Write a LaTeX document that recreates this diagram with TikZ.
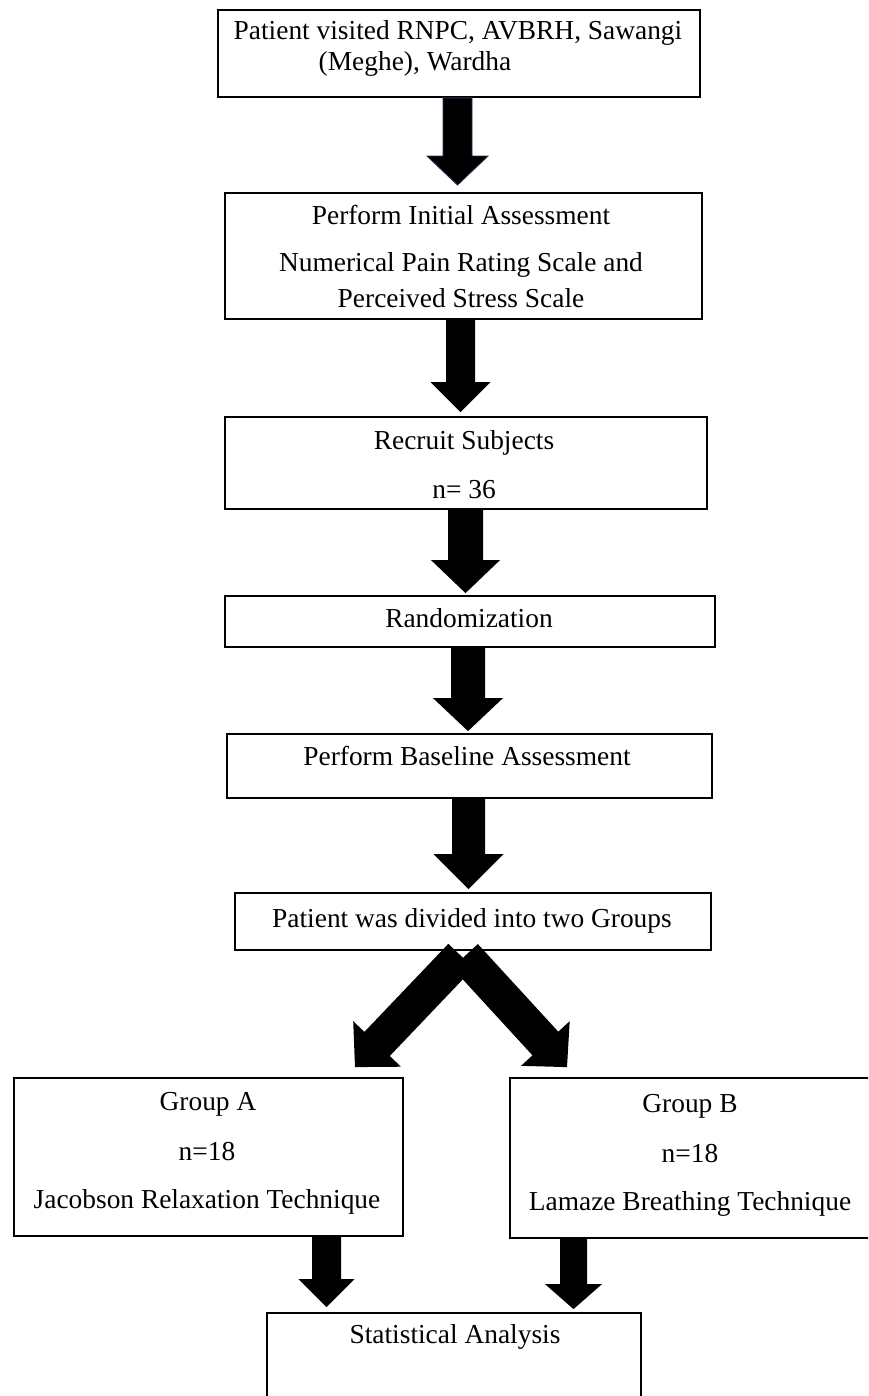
\documentclass[tikz,border=0pt]{standalone}
\usepackage{fontspec}
\setmainfont{Liberation Serif}
\usetikzlibrary{calc}
\definecolor{navyedge}{RGB}{40,52,86}
\tikzset{
  box/.style={draw=black, line width=1.8pt, inner sep=0pt},
  txt/.style={anchor=base, inner sep=0pt, font=\fontsize{27.4}{33}\selectfont},
  blockarrow/.style n args={3}{to path={
    (\tikztostart) coordinate (bS) (\tikztotarget) coordinate (bT) ($(bT)!#3!(bS)$) coordinate (bH)
    ($(bS)!#1!90:(bT)$) -- ($(bH)!#1!90:(bT)$) -- ($(bH)!#2!90:(bT)$) -- (bT)
    -- ($(bH)!#2!-90:(bT)$) -- ($(bH)!#1!-90:(bT)$) -- ($(bS)!#1!-90:(bT)$) -- cycle}},
  arrowfill/.style={fill=black},
}
\begin{document}
\begin{tikzpicture}[x=1pt,y=-1pt]
\useasboundingbox (0,0) rectangle (868,1396);
\clip (0,0) rectangle (868,1396);

% boxes
\node[box, minimum width=482pt, minimum height=87pt] (b1) at (459,53.5) {};
\node[box, minimum width=477pt, minimum height=126pt] (b2) at (463.5,256) {};
\node[box, minimum width=482pt, minimum height=92pt] (b3) at (466,463) {};
\node[box, minimum width=490pt, minimum height=51pt] (b4) at (470,621.5) {};
\node[box, minimum width=485pt, minimum height=64pt] (b5) at (469.5,766) {};
\node[box, minimum width=476pt, minimum height=57pt] (b6) at (473,921.5) {};
\node[box, minimum width=389pt, minimum height=158pt] (b7) at (208.5,1157) {};
\node[box, minimum width=370pt, minimum height=160pt] (b8) at (695,1158) {};
\node[box, minimum width=374pt, minimum height=107pt] (b9) at (454,1366.5) {};

% texts
\node[txt] (t1a) at (458,40) {Patient visited RNPC, AVBRH, Sawangi};
\node[txt] (t1b) at (415,71) {(Meghe), Wardha};
\node[txt] (t2a) at (461,225) {Perform Initial Assessment};
\node[txt] (t2b) at (461,272) {Numerical Pain Rating Scale and};
\node[txt] (t2c) at (461,308) {Perceived Stress Scale};
\node[txt] (t3a) at (464,449) {Recruit Subjects};
\node[txt] (t3b) at (464,498) {n= 36};
\node[txt] (t4) at (469,627) {Randomization};
\node[txt] (t5) at (467,765) {Perform Baseline Assessment};
\node[txt] (t6) at (472,927) {Patient was divided into two Groups};
\node[txt] (t7a) at (208,1110) {Group A};
\node[txt] (t7b) at (207,1160) {n=18};
\node[txt] (t7c) at (207,1208) {Jacobson Relaxation Technique};
\node[txt] (t8a) at (690,1112) {Group B};
\node[txt] (t8b) at (690,1162) {n=18};
\node[txt] (t8c) at (690,1210) {Lamaze Breathing Technique};
\node[txt] (t9) at (455,1343) {Statistical Analysis};

% block arrows
\path[arrowfill, draw=navyedge, line width=0.8pt] (457.5,0 |- b1.south) to[blockarrow={14.5pt}{30.5pt}{29pt}] ([yshift=7pt]457.5,0 |- b2.north);
\path[arrowfill] (460.5,0 |- b2.south) to[blockarrow={14.5pt}{30pt}{30pt}] ([yshift=4pt]460.5,0 |- b3.north);
\path[arrowfill] (465.5,0 |- b3.south) to[blockarrow={17.5pt}{34.5pt}{33pt}] ([yshift=2pt]465.5,0 |- b4.north);
\path[arrowfill] (468,0 |- b4.south) to[blockarrow={17pt}{35pt}{33pt}] ([yshift=2pt]468,0 |- b5.north);
\path[arrowfill] (468.5,0 |- b5.south) to[blockarrow={16.5pt}{35pt}{35pt}] ([yshift=3pt]468.5,0 |- b6.north);
\path[arrowfill] ([yshift=-5pt]461,0 |- b6.south) to[blockarrow={17.5pt}{33pt}{32pt}] ([yshift=10pt]355,0 |- b7.north);
\path[arrowfill] ([yshift=-5pt]465,0 |- b6.south) to[blockarrow={17.5pt}{33pt}{32pt}] ([yshift=10pt]567,0 |- b8.north);
\path[arrowfill] (326.5,0 |- b7.south) to[blockarrow={14.5pt}{28pt}{28pt}] ([yshift=5pt]326.5,0 |- b9.north);
\path[arrowfill] (573.5,0 |- b8.south) to[blockarrow={13.5pt}{28.5pt}{25pt}] ([yshift=3pt]573.5,0 |- b9.north);
\end{tikzpicture}
\end{document}
